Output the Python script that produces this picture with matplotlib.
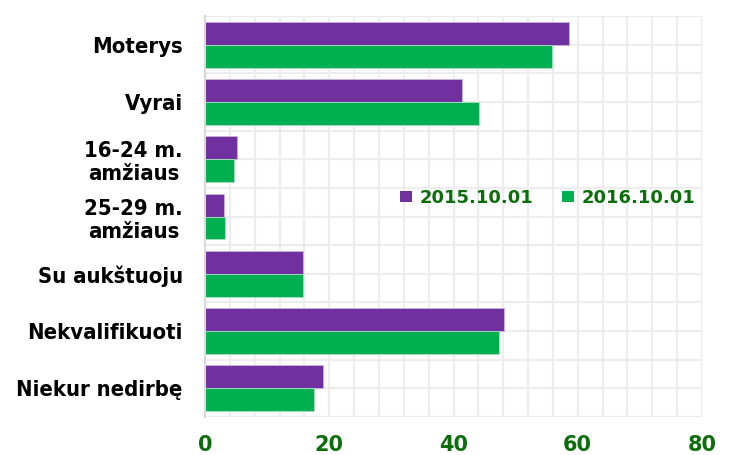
import matplotlib
matplotlib.use("Agg")
import matplotlib.pyplot as plt
import numpy as np
from matplotlib.patches import Patch

categories = ["Moterys", "Vyrai", "16-24 m.\namžiaus", "25-29 m.\namžiaus",
              "Su aukštuoju", "Nekvalifikuoti", "Niekur nedirbę"]
series_names = ["2015.10.01", "2016.10.01"]
values_2015 = [58.6, 41.3, 5.2, 3.1, 15.7, 48.1, 19.0]
values_2016 = [55.9, 44.1, 4.6, 3.2, 15.8, 47.4, 17.5]
xticks = [0, 20, 40, 60, 80]

purple = "#7030A0"
green = "#00B050"
tick_green = "#0b6e0b"

plt.rcParams['font.family'] = ['DejaVu Sans']

fig = plt.figure(figsize=(7.32, 4.55), dpi=100)
ax = fig.add_axes([205/732, 1-417/455, 497/732, 401/455])

y = np.arange(len(categories))
h = 0.4
ax.barh(y - h/2, values_2015, height=h, color=purple, edgecolor="#c9b3dc", linewidth=0.6, zorder=3)
ax.barh(y + h/2, values_2016, height=h, color=green, edgecolor="#a8e0bd", linewidth=0.6, zorder=3)

ax.set_xlim(0, 80)
ax.set_ylim(len(categories) - 0.5, -0.5)

# grid
for gx in np.arange(0, 81, 4):
    ax.axvline(gx, color="#ededed", lw=1.6, zorder=0)
for gy in np.arange(-0.5, len(categories), 0.5):
    ax.axhline(gy, color="#ededed", lw=1.6, zorder=0)

for s in ["top", "right", "bottom"]:
    ax.spines[s].set_visible(False)
ax.spines["left"].set_color("#d9d9d9")
ax.spines["left"].set_linewidth(1.5)
ax.spines["left"].set_zorder(4)

ax.set_yticks(y)
ax.set_yticklabels(categories, fontsize=15.8, fontweight="bold", color="black",
                   multialignment="center", fontstretch="condensed", linespacing=1.2)
ax.set_xticks(xticks)
ax.set_xticklabels([str(t) for t in xticks], fontsize=15, fontweight="bold", color=tick_green)
ax.tick_params(axis="y", length=0, pad=16)
ax.tick_params(axis="x", length=0, pad=13)

handles = [Patch(facecolor=purple, edgecolor="none"), Patch(facecolor=green, edgecolor="none")]
leg = fig.legend(handles, series_names, loc="center", bbox_to_anchor=(548/732, 1-198/455),
                 ncol=2, frameon=False, handlelength=0.62, handleheight=0.62,
                 handletextpad=0.45, columnspacing=1.6,
                 prop={"size": 13, "weight": "bold"})
for t in leg.get_texts():
    t.set_color(tick_green)

fig.savefig("out.png", dpi=100)
